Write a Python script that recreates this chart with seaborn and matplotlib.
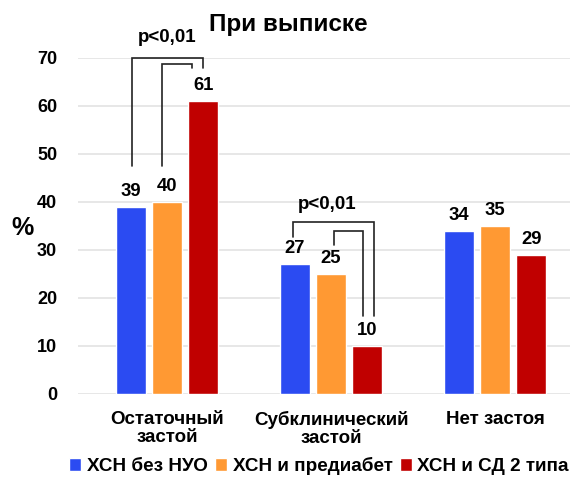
import matplotlib
matplotlib.use("Agg")
import matplotlib.pyplot as plt
import seaborn as sns
import pandas as pd

categories = ["Остаточный\nзастой", "Субклинический\nзастой", "Нет застоя"]
groups = ["ХСН без НУО", "ХСН и предиабет", "ХСН и СД 2 типа"]
no_ugm = [39, 27, 34]
prediabetes = [40, 25, 35]
diabetes = [61, 10, 29]
colors = ["#2B4BF2", "#FF9933", "#C00000"]
y_ticks = [0, 10, 20, 30, 40, 50, 60, 70]

rows = []
for g, vals in zip(groups, [no_ugm, prediabetes, diabetes]):
    for c, v in zip(categories, vals):
        rows.append({"cat": c, "grp": g, "val": v})
df = pd.DataFrame(rows)

sns.set_style("white")
plt.rcParams["font.family"] = ["Liberation Sans", "DejaVu Sans"]
plt.rcParams["text.color"] = "black"
plt.rcParams["xtick.color"] = "black"
plt.rcParams["ytick.color"] = "black"

fig = plt.figure(figsize=(5.70, 4.79), dpi=100)
ax = fig.add_axes([78 / 570, 85 / 479, 1 - 78 / 570, 336 / 479])

sns.barplot(data=df, x="cat", y="val", hue="grp", order=categories,
            hue_order=groups, palette=colors, width=0.66, gap=0.17,
            saturation=1, ax=ax, legend=True)

ax.set_ylim(0, 70)
ax.set_xlim(-0.543, 2.457)
ax.set_yticks(y_ticks)
ax.set_yticklabels([str(t) for t in y_ticks], fontsize=13, fontweight="bold")
ax.grid(axis="y", color="#e3e3e3", linewidth=1.2)
ax.set_axisbelow(True)
for s in ax.spines.values():
    s.set_visible(False)
ax.tick_params(axis="y", length=0, pad=15)
ax.tick_params(axis="x", length=0, pad=12)
for lbl in ax.get_xticklabels():
    lbl.set_fontsize(13.5)
    lbl.set_fontweight("bold")
    lbl.set_linespacing(1.12)
ax.set_xlabel("")
ax.set_ylabel("")

for cont in ax.containers:
    ax.bar_label(cont, fmt="%d", padding=5, fontsize=13.3, fontweight="bold",
                 color="black")

fig.text(22 / 570, 1 - 228 / 479, "%", fontsize=18, fontweight="bold",
         ha="center", va="center")
fig.text(0.505, 1 - 25 / 479, "При выписке", fontsize=17.5, fontweight="bold",
         ha="center", va="center")

# significance brackets: (x_left, y_left_bottom, x_right, y_right_bottom, y_top)
def bracket(x0, y0, x1, y1, top):
    ax.plot([x0, x0, x1, x1], [y0, top, top, y1], color="#222222",
            linewidth=1.2, clip_on=False, solid_joinstyle="miter")

bracket(-0.213, 47.5, 0.218, 68.0, 69.9)
bracket(-0.03, 47.5, 0.15, 68.0, 68.75)
ax.text(-0.002, 74.2, "p<0,01", ha="center", va="center", fontsize=13.5,
        fontweight="bold", clip_on=False)

bracket(1 - 0.233, 32.8, 1 + 0.262, 16.25, 35.8)
bracket(1 + 0.016, 31.0, 1 + 0.197, 16.25, 34.0)
ax.text(1 - 0.023, 39.4, "p<0,01", ha="center", va="center", fontsize=13.5,
        fontweight="bold")

handles, labels = ax.get_legend_handles_labels()
ax.get_legend().remove()
fig.legend(handles, labels, loc="center", bbox_to_anchor=(0.56, 1 - 466 / 479),
           ncol=3, frameon=False, prop={"size": 13.6, "weight": "bold"},
           handlelength=0.62, handleheight=0.62, handletextpad=0.3,
           columnspacing=0.4)

fig.savefig("out.png", dpi=100)
